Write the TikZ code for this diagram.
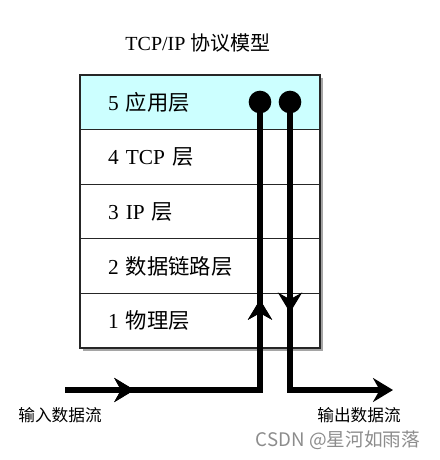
\documentclass[tikz,border=0pt]{standalone}
\usepackage{fontspec}
\setmainfont{Liberation Serif}
\newfontfamily\cjk{Noto Sans CJK SC}
\usetikzlibrary{positioning,arrows.meta,decorations.markings}
\definecolor{appcyan}{RGB}{204,255,255}
\definecolor{shadowgray}{RGB}{165,165,165}

\begin{document}
\begin{tikzpicture}[x=0.75pt,y=-0.75pt,
        layer/.style={rectangle, draw=black!85, line width=0.8pt, outer sep=0pt, inner sep=0pt,
          minimum width=180pt, minimum height=40.95pt, text width=138pt, align=left,
          font=\fontsize{16}{18}\selectfont},
        flow/.style={line width=3.8pt},
        midarrow/.style={postaction={decorate}, decoration={markings,
          mark=at position #1 with {\arrow{Stealth[length=15pt, width=18pt, inset=5pt]}}}},
        endpt/.style={circle, fill=black, inner sep=0pt, minimum size=17pt}
      ]
      \useasboundingbox (0,0) rectangle (439,460);
      % title
      \node[font=\fontsize{15}{17}\selectfont] (title) at (198,43) {TCP/IP {\cjk 协议模型}};
      % shadow of the stack
      \fill[shadowgray] (83,78) rectangle (323,351);
      % the five layers
      \node[layer, fill=appcyan] (app) at (200,102.3) {5 {\cjk 应用层}};
      \node[layer, fill=white, below=0pt of app] (tcp) {4 TCP {\cjk 层}};
      \node[layer, fill=white, below=0pt of tcp] (ip) {3 IP {\cjk 层}};
      \node[layer, fill=white, below=0pt of ip] (link) {2 {\cjk 数据链路层}};
      \node[layer, fill=white, below=0pt of link] (phys) {1 {\cjk 物理层}};
      % end points in the application layer
      \node[endpt] (sendpt) at (260,102) {};
      \node[endpt] (recvpt) at (290,102) {};
      \coordinate (inbeg) at (65,390);
      \coordinate (incorner) at (260,390);
      \coordinate (outcorner) at (290,390);
      \coordinate (outend) at (393,390);
      % data flows
      \draw[flow, midarrow=52pt, midarrow=214pt] (inbeg) -- (incorner) -- (sendpt.center);
      \draw[flow, midarrow=158pt, -{Stealth[length=15pt, width=18pt, inset=5pt]}]
        (recvpt.center) -- (outcorner) -- (outend);
      % labels
      \node[font=\cjk\fontsize{12.5}{14}\selectfont] (inlabel) at (60,415) {输入数据流};
      \node[font=\cjk\fontsize{12.5}{14}\selectfont] (outlabel) at (359,415) {输出数据流};
      \node[font=\cjk\fontsize{14}{16}\selectfont, text=black!45] (mark) at (338,440) {CSDN @星河如雨落};
    \end{tikzpicture}
\end{document}
